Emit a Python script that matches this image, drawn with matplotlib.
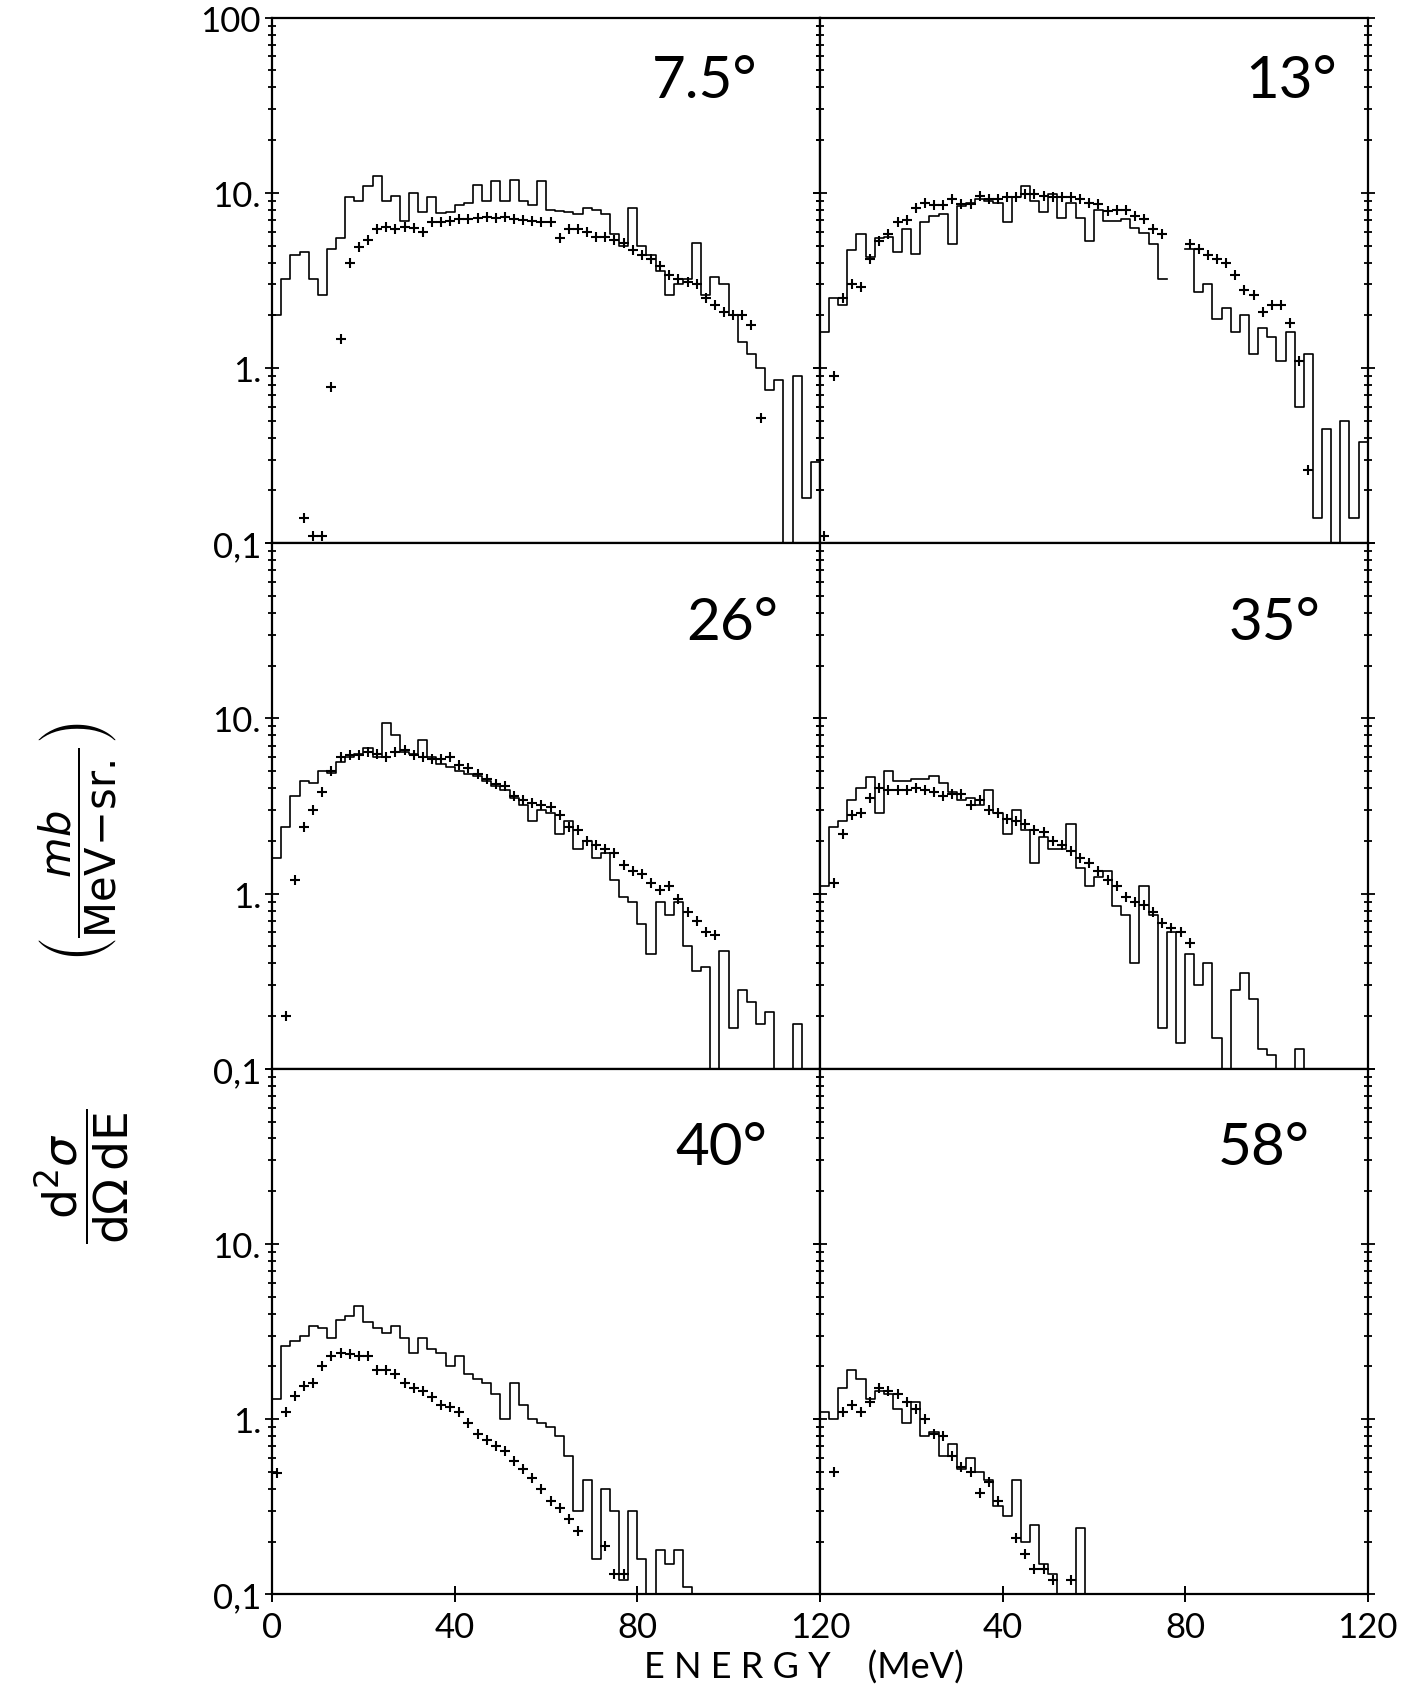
import numpy as np
import matplotlib.pyplot as plt
from matplotlib.ticker import FixedLocator, FixedFormatter, LogLocator, NullFormatter

plt.rcParams['font.family'] = ['Lato', 'DejaVu Sans']
plt.rcParams['font.weight'] = 'normal'
plt.rcParams['mathtext.fontset'] = 'dejavusans'

nan = np.nan

# histogram bins are 2 MeV wide, crosses sit at the bin centres
edges = np.arange(0, 121, 2)
centres = np.arange(1, 120, 2)

angles = ['7.5°', '13°', '26°', '35°', '40°', '58°']
label_x = [0.79, 0.86, 0.84, 0.83, 0.82, 0.81]
label_y = [0.88, 0.88, 0.85, 0.85, 0.85, 0.85]

# ---- 7.5 deg
hist_75 = [2.0, 3.2, 4.4, 4.6, 3.2, 2.6, 4.8, 5.5, 9.4, 9.0,
           11.0, 12.5, 9.0, 9.6, 6.9, 10.0, 7.8, 9.5, 7.7, 7.8,
           8.5, 8.8, 11.1, 9.0, 11.6, 9.0, 11.9, 9.0, 8.5, 11.6,
           8.0, 7.9, 7.8, 7.6, 8.2, 8.0, 7.6, 5.8, 5.0, 8.2,
           5.0, 4.4, 3.6, 2.6, 3.0, 3.2, 5.2, 2.6, 3.3, 3.0,
           2.0, 1.4, 1.2, 1.0, 0.75, 0.85, 0.1, 0.9, 0.18, 0.29]
cross_75 = [nan, nan, nan, 0.14, 0.11, 0.11, 0.78, 1.47, 4.0, 4.9,
            5.4, 6.2, 6.4, 6.2, 6.4, 6.3, 6.0, 6.8, 6.8, 6.9,
            7.1, 7.1, 7.2, 7.3, 7.2, 7.3, 7.1, 7.0, 6.9, 6.8,
            6.8, 5.5, 6.2, 6.2, 6.0, 5.6, 5.6, 5.4, 5.2, 4.7,
            4.4, 4.2, 3.8, 3.4, 3.2, 3.1, 3.0, 2.5, 2.3, 2.1,
            2.0, 2.0, 1.75, 0.52] + [nan] * 6

# ---- 13 deg
hist_13 = [1.6, 2.5, 2.3, 4.7, 5.8, 4.3, 5.5, 5.6, 4.6, 6.2,
           4.5, 6.8, 7.4, 7.6, 5.1, 8.4, 8.8, 9.2, 9.0, 8.8,
           6.8, 9.4, 10.9, 9.0, 7.8, 9.8, 7.2, 8.8, 7.2, 5.3,
           8.0, 6.9, 6.9, 7.1, 6.3, 5.9, 5.1, 3.2, nan, nan,
           4.8, 2.7, 3.0, 1.9, 2.2, 1.6, 2.0, 1.2, 1.7, 1.5,
           1.1, 1.6, 0.6, 1.2, 0.14, 0.45, 0.1, 0.5, 0.14, 0.38]
cross_13 = [0.11, 0.9, 2.5, 3.0, 2.9, 4.2, 5.3, 5.8, 6.8, 7.0,
            8.2, 8.8, 8.5, 8.5, 9.2, 8.6, 8.6, 9.6, 9.2, 9.2,
            9.4, 9.4, 9.8, 9.8, 9.6, 9.4, 9.4, 9.4, 9.2, 8.7,
            8.6, 7.9, 8.0, 8.0, 7.4, 7.1, 6.2, 5.8, nan, nan,
            5.1, 4.8, 4.4, 4.2, 4.0, 3.4, 2.8, 2.6, 2.1, 2.3,
            2.3, 1.8, 1.1, 0.26] + [nan] * 6

# ---- 26 deg
hist_26 = [1.6, 2.4, 3.6, 4.4, 4.3, 5.0, 4.9, 5.6, 6.0, 6.3,
           6.8, 6.0, 9.4, 8.0, 6.4, 6.3, 7.5, 6.0, 5.5, 5.3,
           5.0, 4.8, 4.7, 4.4, 4.1, 3.9, 3.5, 3.2, 2.6, 3.0,
           2.9, 2.2, 2.6, 1.8, 2.0, 1.6, 1.7, 1.2, 0.95, 0.9,
           0.67, 0.45, 0.9, 0.75, 0.9, 0.5, 0.36, 0.38, 0.1, 0.47,
           0.17, 0.28, 0.24, 0.18, 0.21, 0.1, 0.1, 0.18, 0.1, nan]
cross_26 = [nan, 0.2, 1.2, 2.4, 3.0, 3.8, 5.0, 6.0, 6.2, 6.2,
            6.4, 6.3, 6.0, 6.4, 6.6, 6.2, 6.0, 5.9, 5.9, 6.0,
            5.4, 5.2, 4.8, 4.5, 4.2, 4.1, 3.6, 3.4, 3.3, 3.2,
            3.1, 2.8, 2.4, 2.3, 2.0, 1.9, 1.8, 1.7, 1.45, 1.35,
            1.3, 1.15, 1.05, 1.1, 0.93, 0.78, 0.7, 0.6, 0.58] + [nan] * 11

# ---- 35 deg
hist_35 = [1.1, 2.4, 2.6, 3.4, 4.0, 4.6, 2.9, 5.0, 4.4, 4.4,
           4.5, 4.5, 4.7, 4.3, 3.8, 3.4, 3.5, 3.2, 3.9, 2.9,
           2.2, 3.0, 2.3, 1.5, 2.1, 1.8, 1.8, 2.5, 1.4, 1.1,
           1.25, 1.35, 0.85, 0.75, 0.4, 1.1, 0.75, 0.17, 0.6, 0.14,
           0.45, 0.3, 0.4, 0.15, 0.1, 0.28, 0.35, 0.25, 0.13, 0.12,
           0.1, 0.1, 0.13, 0.1] + [nan] * 6
cross_35 = [nan, 1.15, 2.2, 2.8, 2.9, 3.5, 4.0, 3.9, 3.9, 3.9,
            4.0, 3.9, 3.8, 3.6, 3.7, 3.7, 3.2, 3.4, 3.0, 2.9,
            2.65, 2.6, 2.5, 2.3, 2.25, 2.0, 1.9, 1.75, 1.6, 1.5,
            1.35, 1.2, 1.1, 0.95, 0.9, 0.86, 0.78, 0.68, 0.64, 0.6,
            0.52] + [nan] * 19

# ---- 40 deg
hist_40 = [1.3, 2.6, 2.8, 3.0, 3.4, 3.3, 2.9, 3.7, 3.9, 4.4,
           3.6, 3.3, 3.1, 3.4, 2.9, 2.4, 2.9, 2.5, 2.4, 2.0,
           2.3, 1.8, 1.7, 1.6, 1.4, 1.0, 1.6, 1.2, 1.0, 0.95,
           0.9, 0.8, 0.62, 0.3, 0.45, 0.16, 0.4, 0.3, 0.12, 0.3,
           0.16, 0.1, 0.18, 0.15, 0.18, 0.11, 0.1] + [nan] * 13
cross_40 = [0.49, 1.1, 1.35, 1.55, 1.6, 2.0, 2.3, 2.4, 2.35, 2.3,
            2.3, 1.9, 1.9, 1.8, 1.6, 1.5, 1.45, 1.33, 1.2, 1.18,
            1.1, 0.95, 0.82, 0.76, 0.7, 0.66, 0.58, 0.52, 0.46, 0.4,
            0.34, 0.31, 0.27, 0.23, nan, nan, 0.19, 0.13, 0.13] + [nan] * 21

# ---- 58 deg
hist_58 = [1.1, 1.0, 1.5, 1.9, 1.7, 1.3, 1.45, 1.4, 1.15, 0.95,
           1.25, 0.8, 0.85, 0.62, 0.72, 0.52, 0.6, 0.5, 0.45, 0.32,
           0.28, 0.45, 0.2, 0.25, 0.15, 0.13, 0.1, 0.1, 0.24, 0.1] + [nan] * 30
cross_58 = [nan, 0.5, 1.1, 1.2, 1.1, 1.25, 1.5, 1.45, 1.4, 1.25,
            1.15, 1.0, 0.82, 0.8, 0.62, 0.53, 0.5, 0.38, 0.44, 0.34,
            nan, 0.21, 0.17, 0.14, 0.14, 0.12, nan, 0.12] + [nan] * 32

hists = [hist_75, hist_13, hist_26, hist_35, hist_40, hist_58]
crosses = [cross_75, cross_13, cross_26, cross_35, cross_40, cross_58]

fig, axes = plt.subplots(3, 2, figsize=(14.1, 16.9), dpi=100)
fig.subplots_adjust(left=0.193, right=0.970, bottom=0.056, top=0.989,
                    wspace=0, hspace=0)

for i, ax in enumerate(axes.flat):
    row, col = divmod(i, 2)
    h = np.array(hists[i], dtype=float)
    c = np.array(crosses[i], dtype=float)

    ax.step(edges, np.append(h, h[-1]), where='post', color='black', lw=1.2)
    ax.plot(centres, c, ls='none', marker='+', ms=7, mew=1.5, color='black')

    ax.set_yscale('log')
    ax.set_ylim(0.1, 100)
    ax.set_xlim(0, 120)

    ax.yaxis.set_major_locator(FixedLocator([0.1, 1, 10, 100]))
    ax.yaxis.set_minor_locator(LogLocator(base=10, subs=np.arange(2, 10)))
    ax.yaxis.set_minor_formatter(NullFormatter())
    if col == 0:
        top = '100' if row == 0 else ''
        ax.yaxis.set_major_formatter(FixedFormatter(['0,1', '1.', '10.', top]))
    else:
        ax.yaxis.set_major_formatter(NullFormatter())

    ax.xaxis.set_major_locator(FixedLocator([0, 40, 80, 120]))
    if row == 2:
        xl = ['0', '40', '80', '120'] if col == 0 else ['', '40', '80', '120']
        ax.xaxis.set_major_formatter(FixedFormatter(xl))
        ax.tick_params(axis='x', direction='inout', length=12, width=1.4,
                       labelsize=25, pad=6, labelcolor='black')
    else:
        ax.xaxis.set_major_formatter(NullFormatter())
        ax.tick_params(axis='x', length=0)

    ax.tick_params(axis='y', which='both', direction='inout', left=True,
                   right=True, width=1.3, labelsize=25, pad=3,
                   labelcolor='black')
    ax.tick_params(axis='y', which='major', length=10)
    ax.tick_params(axis='y', which='minor', length=6)

    for sp in ax.spines.values():
        sp.set_linewidth(1.6)

    ax.text(label_x[i], label_y[i], angles[i], transform=ax.transAxes,
            fontsize=42, ha='center', va='center', color='black')

fig.text(0.57, 0.013, 'E N E R G Y    (MeV)', ha='center', va='center',
         fontsize=26, color='black')
fig.text(0.058, 0.304,
         r'$\dfrac{\mathrm{d}^2\sigma}{\mathrm{d}\Omega\,\mathrm{dE}}$',
         rotation=90, ha='center', va='center', fontsize=34, color='black')
fig.text(0.055, 0.502, r'$\left(\dfrac{mb}{\mathrm{MeV\!-\!sr.}}\right)$',
         rotation=90, ha='center', va='center', fontsize=30, color='black')

fig.savefig('out.png', dpi=100)
